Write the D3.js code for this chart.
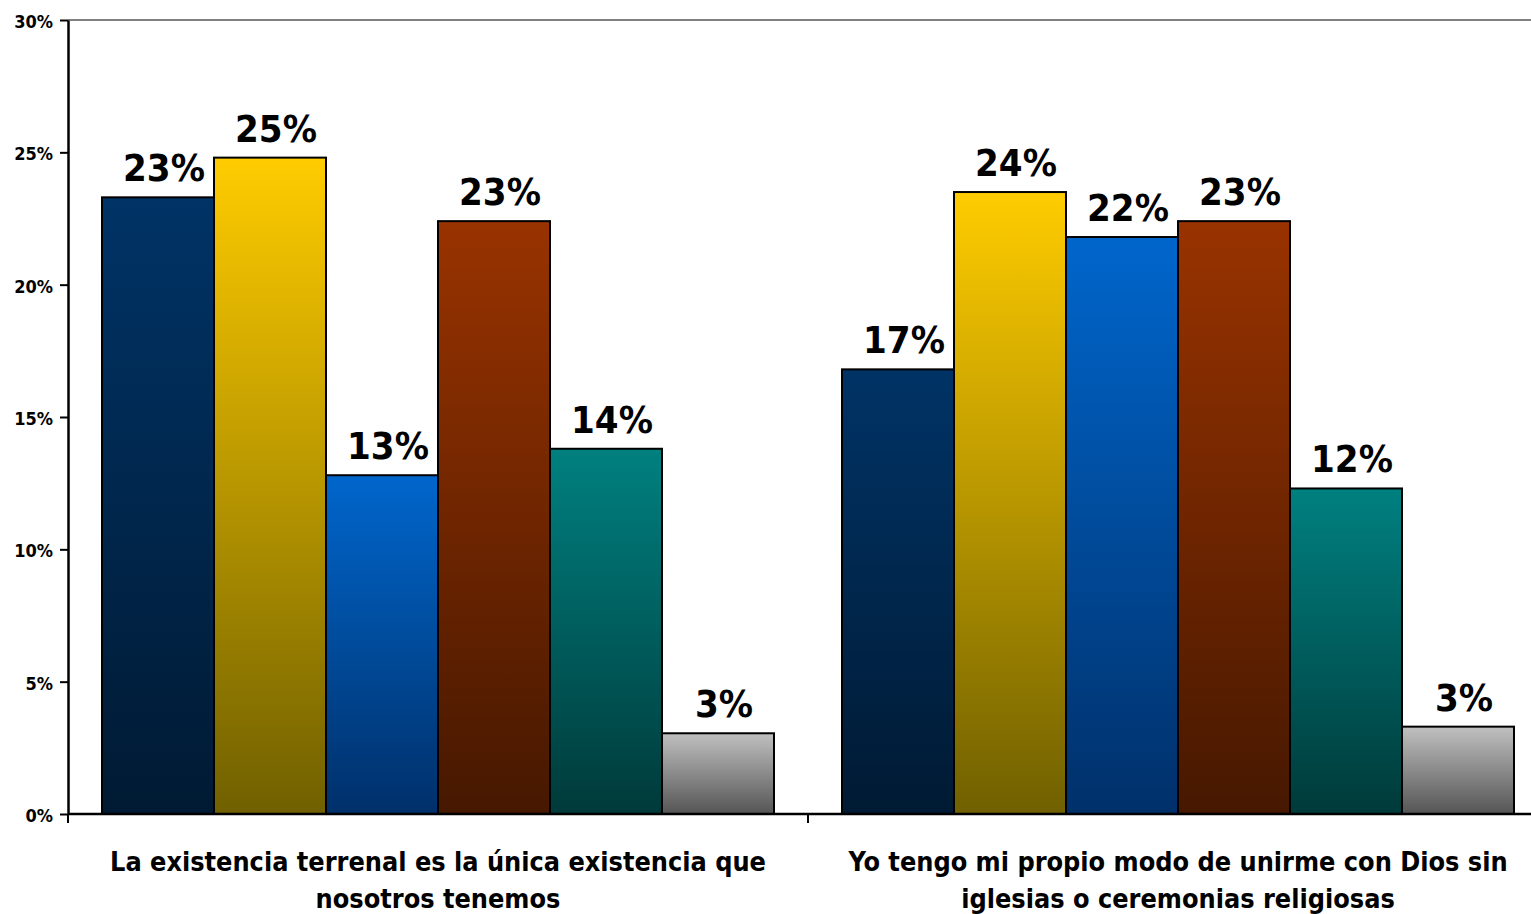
<!DOCTYPE html>
<html>
<head>
<meta charset="utf-8">
<script src="https://cdn.jsdelivr.net/npm/d3@7"></script>
<style>
html, body { margin: 0; padding: 0; background: #fff; }
svg { display: block; }
</style>
</head>
<body>
<svg id="chart" width="1531" height="914"></svg>
<script>
const categories = [
  "La existencia terrenal es la única existencia que nosotros tenemos",
  "Yo tengo mi propio modo de unirme con Dios sin iglesias o ceremonias religiosas"
];
const categoryLines = [
  ["La existencia terrenal es la única existencia que", "nosotros tenemos"],
  ["Yo tengo mi propio modo de unirme con Dios sin", "iglesias o ceremonias religiosas"]
];
const series = ["Serie 1", "Serie 2", "Serie 3", "Serie 4", "Serie 5", "Serie 6"];
const valuesCat1 = [23.3, 24.8, 12.8, 22.4, 13.8, 3.05];
const valuesCat2 = [16.8, 23.5, 21.8, 22.4, 12.3, 3.3];
const labelsCat1 = ["23%", "25%", "13%", "23%", "14%", "3%"];
const labelsCat2 = ["17%", "24%", "22%", "23%", "12%", "3%"];
const yTicks = [0, 5, 10, 15, 20, 25, 30];
const yTickLabels = ["0%", "5%", "10%", "15%", "20%", "25%", "30%"];
const colorsTop = ["#003366", "#ffcc00", "#0066cc", "#993300", "#008080", "#c0c0c0"];
const colorsBottom = ["#001a33", "#706000", "#00306a", "#461800", "#003a3a", "#555555"];

const allValues = [valuesCat1, valuesCat2];
const allLabels = [labelsCat1, labelsCat2];

const svg = d3.select("#chart");
const W = 1531;
const y = d3.scaleLinear().domain([0, 30]).range([814, 20]);
const x0 = d3.scaleBand().domain(categories).range([68, 1548]).padding(0);
const x1 = d3.scaleBand().domain(series).range([34, x0.bandwidth() - 34]).padding(0);

const defs = svg.append("defs");
series.forEach((s, i) => {
  const g = defs.append("linearGradient")
    .attr("id", "grad" + i)
    .attr("x1", 0).attr("y1", 0).attr("x2", 0).attr("y2", 1);
  g.append("stop").attr("offset", "0%").attr("stop-color", colorsTop[i]);
  g.append("stop").attr("offset", "100%").attr("stop-color", colorsBottom[i]);
});

// top plot border
svg.append("line")
  .attr("x1", x0.range()[0]).attr("x2", W)
  .attr("y1", y(30)).attr("y2", y(30))
  .attr("stroke", "#808080").attr("stroke-width", 2);

// bars
const groups = svg.selectAll("g.cat")
  .data(categories)
  .join("g")
  .attr("class", "cat")
  .attr("transform", d => `translate(${x0(d)},0)`);

groups.each(function(cat, ci) {
  const g = d3.select(this);
  const data = series.map((s, i) => ({ s, i, v: allValues[ci][i], label: allLabels[ci][i] }));
  g.selectAll("rect")
    .data(data)
    .join("rect")
    .attr("x", d => x1(d.s))
    .attr("y", d => y(d.v))
    .attr("width", x1.bandwidth())
    .attr("height", d => y(0) - y(d.v))
    .attr("fill", d => `url(#grad${d.i})`)
    .attr("stroke", "#000")
    .attr("stroke-width", 2);
  g.selectAll("text.val")
    .data(data)
    .join("text")
    .attr("class", "val")
    .attr("x", d => x1(d.s) + x1.bandwidth() / 2 + 6)
    .attr("y", d => y(d.v) - 16)
    .attr("text-anchor", "middle")
    .attr("font-family", "'DejaVu Sans Condensed', 'DejaVu Sans', sans-serif")
    .attr("font-weight", "bold")
    .attr("font-size", 38)
    .attr("fill", "#000")
    .text(d => d.label);
});

// y axis
const yAxis = d3.axisLeft(y)
  .tickValues(yTicks)
  .tickFormat((d, i) => yTickLabels[i])
  .tickSize(8)
  .tickSizeOuter(0);
const yg = svg.append("g")
  .attr("transform", `translate(${x0.range()[0]},0)`)
  .call(yAxis);
yg.select(".domain").attr("stroke", "#000").attr("stroke-width", 2.5);
yg.selectAll(".tick line").attr("stroke", "#000").attr("stroke-width", 2);
yg.selectAll(".tick text")
  .attr("x", -15)
  .attr("dy", "0.42em")
  .attr("font-family", "'DejaVu Sans Condensed', 'DejaVu Sans', sans-serif")
  .attr("font-weight", "bold")
  .attr("font-size", 18)
  .attr("fill", "#000");

// x axis
svg.append("line")
  .attr("x1", x0.range()[0]).attr("x2", W)
  .attr("y1", y(0)).attr("y2", y(0))
  .attr("stroke", "#000").attr("stroke-width", 2.5);
svg.selectAll("line.xtick")
  .data(categories)
  .join("line")
  .attr("class", "xtick")
  .attr("x1", d => x0(d)).attr("x2", d => x0(d))
  .attr("y1", y(0)).attr("y2", y(0) + 9)
  .attr("stroke", "#000").attr("stroke-width", 2);

// category labels
svg.selectAll("text.cat")
  .data(categories)
  .join("text")
  .attr("class", "cat")
  .attr("x", d => x0(d) + x0.bandwidth() / 2)
  .attr("y", 871)
  .attr("text-anchor", "middle")
  .attr("font-family", "'DejaVu Sans Condensed', 'DejaVu Sans', sans-serif")
  .attr("font-weight", "bold")
  .attr("font-size", 26.8)
  .attr("fill", "#000")
  .each(function(d, i) {
    const t = d3.select(this);
    categoryLines[i].forEach((line, li) => {
      t.append("tspan")
        .attr("x", x0(d) + x0.bandwidth() / 2)
        .attr("dy", li === 0 ? 0 : 37)
        .text(line);
    });
  });
</script>
</body>
</html>
